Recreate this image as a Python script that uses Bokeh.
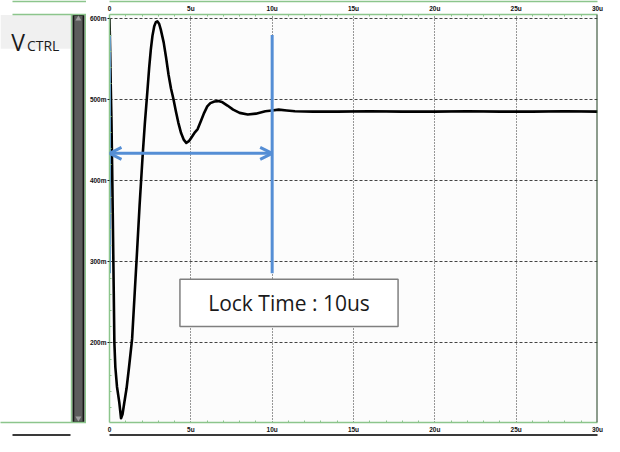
from bokeh.plotting import figure
from bokeh.models import Range1d, FixedTicker, LinearAxis, Span, Arrow, OpenHead, Label
from bokeh.layouts import row
from bokeh.embed import file_html
from bokeh.resources import INLINE
from bokeh.core.properties import value

# ---------------- data ----------------
time_us = [0.00, 0.04, 0.08, 0.12, 0.16, 0.20, 0.26, 0.30, 0.36, 0.46, 0.60, 0.71,
           0.80, 0.90, 1.05, 1.20, 1.39, 1.55, 1.70, 1.85, 2.04, 2.17, 2.30, 2.44,
           2.54, 2.64, 2.75, 2.85, 2.94, 3.05, 3.15, 3.33, 3.48, 3.63, 3.78, 3.93,
           4.08, 4.23, 4.40, 4.56, 4.72, 4.88, 5.05, 5.25, 5.42, 5.62, 5.82, 6.01,
           6.20, 6.45, 6.70, 6.95, 7.25, 7.60, 8.00, 8.50, 9.00, 9.58, 10.00, 10.40,
           10.90, 11.40, 12.50, 14.00, 16.00, 18.00, 20.00, 22.00, 24.00, 26.00, 28.00, 30.00]
vctrl_mV = [600, 560, 515, 475, 420, 360, 265, 200, 170, 146, 127, 107,
            112, 125, 144, 170, 205, 262, 315, 370, 432, 470, 503, 540,
            562, 579, 591, 596, 597, 594, 587, 571, 552, 531, 514, 501,
            486, 472, 459, 451, 447, 449, 454, 460, 464, 474, 484, 492,
            496, 498, 498.5, 497, 493, 488, 484, 482, 483, 486, 487, 488,
            487, 486, 485.5, 485.5, 486, 485.5, 485.5, 486, 485.5, 485.5, 486, 485.5]

x_ticks = [0, 5, 10, 15, 20, 25, 30]
x_tick_labels = ["0", "5u", "10u", "15u", "20u", "25u", "30u"]
y_ticks = [200, 300, 400, 500, 600]
y_tick_labels = ["200m", "300m", "400m", "500m", "600m"]

lock_start_us = 0
lock_time_us = 10
marker_low_mV = 286
marker_high_mV = 580
arrow_level_mV = 434
note_text = "Lock Time : 10us"
note_left, note_right, note_bottom, note_top = 4.33, 17.74, 220.2, 278.6
signal_main, signal_sub = "V", "CTRL"

# ---------------- styles ----------------
GREEN = "#8cc58c"
BLUE = "#558ed5"
STRIP = "#3a3a3a"
TICK_FONT = "Liberation Sans"
TICK_SIZE = "6.5px"

x_minor = [m for m in range(0, 31) if m % 5 != 0]
y_minor = [m for m in range(120, 601, 20) if m % 100 != 0]

p = figure(width=518, height=436, x_range=Range1d(0, 30), y_range=Range1d(101.8, 605.4),
           output_backend="svg", toolbar_location=None,
           min_border_left=20, min_border_right=7, min_border_top=14, min_border_bottom=14,
           background_fill_color="#fcfcfc", border_fill_color="white", outline_line_color=None)


def style_axis(ax, ticks, minor, labels):
    ax.ticker = FixedTicker(ticks=ticks, minor_ticks=minor)
    ax.major_label_overrides = {t: l for t, l in zip(ticks, labels)}
    ax.axis_line_color = GREEN
    ax.axis_line_width = 1.5
    ax.major_tick_in = 0
    ax.major_tick_out = 0
    ax.minor_tick_in = 2
    ax.minor_tick_out = 0
    ax.minor_tick_line_color = GREEN
    ax.major_label_text_font = TICK_FONT
    ax.major_label_text_font_size = TICK_SIZE
    ax.major_label_text_font_style = "bold"
    ax.major_label_text_color = "#111111"
    ax.major_label_standoff = 3


def line_axis(color, width, bounds=None):
    ax = LinearAxis(ticker=FixedTicker(ticks=[]), axis_line_color=color, axis_line_width=width,
                    major_tick_in=0, major_tick_out=0, minor_tick_in=0, minor_tick_out=0,
                    major_label_text_font_size="0px", major_label_standoff=0)
    if bounds is not None:
        ax.bounds = bounds
    return ax


def spacer_axis(tick, color, bounds):
    # an axis carrying one blank label, so that it has the same height as a labelled axis
    return LinearAxis(ticker=FixedTicker(ticks=[tick]), major_label_overrides={tick: " "},
                      axis_line_color=color, axis_line_width=1.5, bounds=bounds,
                      major_tick_in=0, major_tick_out=0, minor_tick_in=0, minor_tick_out=0,
                      major_label_text_font=TICK_FONT, major_label_text_font_size=TICK_SIZE,
                      major_label_text_font_style="bold", major_label_standoff=3)


style_axis(p.xaxis[0], x_ticks, x_minor, x_tick_labels)
style_axis(p.yaxis[0], y_ticks, y_minor, y_tick_labels)
p.yaxis[0].major_tick_out = 2
p.yaxis[0].major_tick_line_color = "#222222"
p.yaxis[0].major_label_standoff = 1

top_axis = LinearAxis()
style_axis(top_axis, x_ticks, x_minor, x_tick_labels)
p.add_layout(top_axis, "above")
p.add_layout(line_axis(GREEN, 1.5), "above")
p.add_layout(line_axis(STRIP, 3), "below")

p.xgrid.ticker = FixedTicker(ticks=x_ticks)
p.xgrid.grid_line_color = "#333333"
p.xgrid.grid_line_dash = "1 2"
p.xgrid.grid_line_width = 1
p.ygrid.ticker = FixedTicker(ticks=y_ticks)
p.ygrid.grid_line_color = "#444444"
p.ygrid.grid_line_dash = "3 2"
p.ygrid.grid_line_width = 1

p.add_layout(Span(location=30, dimension="height", line_color="#1f3d1f", line_width=2))

# waveform
p.line(time_us, vctrl_mV, line_color="black", line_width=2.6, line_join="round")

# lock-time markers
p.segment(x0=[lock_start_us, lock_time_us], y0=[marker_low_mV, marker_low_mV],
          x1=[lock_start_us, lock_time_us], y1=[marker_high_mV, marker_high_mV],
          line_color=BLUE, line_width=3)
p.add_layout(Arrow(start=OpenHead(size=12, line_color=BLUE, line_width=3),
                   end=OpenHead(size=12, line_color=BLUE, line_width=3),
                   x_start=lock_start_us, y_start=arrow_level_mV,
                   x_end=lock_time_us, y_end=arrow_level_mV,
                   line_color=BLUE, line_width=3))

p.quad(left=[note_left], right=[note_right], bottom=[note_bottom], top=[note_top],
       fill_color="white", line_color="#7f7f7f", line_width=1.5)
p.add_layout(Label(x=(note_left + note_right) / 2, y=(note_bottom + note_top) / 2, text=note_text,
                   text_align="center", text_baseline="middle", text_font="Open Sans",
                   text_font_size="21px", text_color="#1a1a1a"))

# ---------------- left side panel (signal name + scrollbar), in screen-like units ----------------
side = figure(width=86, height=436, x_range=Range1d(0, 88), y_range=Range1d(437.5, 14.5),
              output_backend="svg", toolbar_location=None, x_axis_type=None, y_axis_type=None,
              min_border_left=0, min_border_right=0, min_border_top=14, min_border_bottom=14,
              outline_line_color=None, background_fill_color="white", border_fill_color="white")
side.grid.visible = False

side.quad(left=[0], right=[72], top=[15], bottom=[50], fill_color="#f0f0f0", line_color=None)
side.text(x=[11], y=[43], text=[signal_main], text_font=value("Open Sans"), text_font_size="23px",
          text_baseline="alphabetic", text_color="#1a1a1a")
side.text(x=[27], y=[47], text=[signal_sub], text_font=value("Open Sans"), text_font_size="14px",
          text_baseline="alphabetic", text_color="#1a1a1a")

side.quad(left=[73.5], right=[86], top=[15], bottom=[437.5], fill_color="#161616", line_color=None)
side.quad(left=[75.5], right=[84], top=[16], bottom=[436.5], fill_color="#5c5c5c", line_color=None)
side.scatter(x=[79.7], y=[19], marker="triangle", size=6, fill_color="#a0a0a0", line_color=None)
side.scatter(x=[79.7], y=[433], marker="inverted_triangle", size=6, fill_color="#a0a0a0", line_color=None)
side.segment(x0=[72.7, 87], y0=[14.5, 14.5], x1=[72.7, 87], y1=[437.5, 437.5],
             line_color=GREEN, line_width=1.5)

side.add_layout(spacer_axis(44, GREEN, (12, 88)), "above")
side.add_layout(line_axis(GREEN, 1.5, (12, 88)), "above")
side.add_layout(spacer_axis(44, GREEN, (0, 88)), "below")
side.add_layout(line_axis(STRIP, 3, (12, 72)), "below")

layout = row(side, p)
open("out.html", "w").write(file_html(layout, INLINE))
